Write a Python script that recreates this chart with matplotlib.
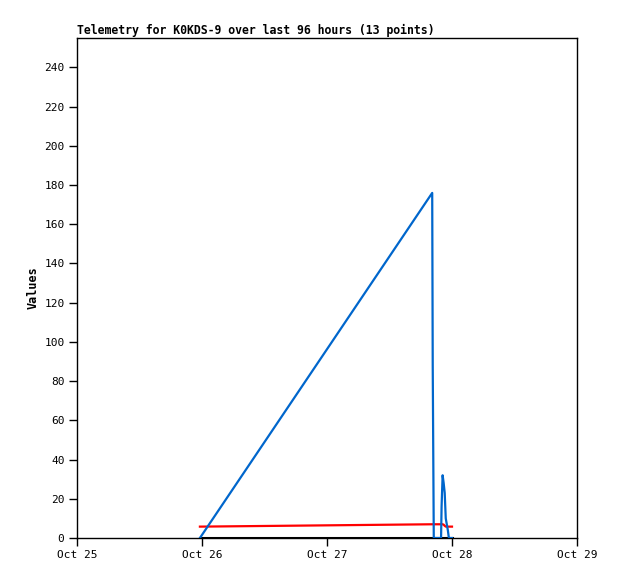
import matplotlib
matplotlib.use("Agg")
import matplotlib.pyplot as plt
import matplotlib.dates as mdates
from datetime import datetime, timedelta

# hours after Oct 25 00:00 for the 13 telemetry points
hours = [23.6, 68.2, 68.3, 68.5, 69.9, 70.0, 70.2, 70.4, 70.6, 70.8, 71.2, 71.4, 72.0]
blue_vals = [0, 176, 88, 0, 0, 16, 32, 28, 23, 10, 4, 0, 0]
red_vals = [5.8, 7.0, 7.0, 7.0, 7.0, 7.0, 7.0, 6.8, 6.2, 5.8, 5.8, 5.8, 5.8]
black_vals = [0] * 13

start = datetime(2023, 10, 25)
times = [start + timedelta(hours=h) for h in hours]
xticks = [start + timedelta(days=d) for d in range(5)]

plt.rcParams['font.family'] = 'DejaVu Sans Mono'

fig = plt.figure(figsize=(6.18, 5.79), dpi=100)
ax = fig.add_axes([77 / 618, 41 / 579, 500 / 618, 500 / 579])

ax.plot(times, black_vals, color='black', lw=2.2, zorder=2)
ax.plot(times, red_vals, color='#ff0000', lw=1.6, zorder=3)
ax.plot(times, blue_vals, color='#0066cc', lw=1.6, zorder=4)

ax.set_xlim(xticks[0], xticks[-1])
ax.set_ylim(0, 255)
ax.set_yticks(range(0, 241, 20))
ax.set_xticks(xticks)
ax.xaxis.set_major_formatter(mdates.DateFormatter('%b %d'))
ax.tick_params(direction='out', length=6, width=1, labelsize=8, pad=3)
for s in ax.spines.values():
    s.set_linewidth(1)

ax.set_ylabel('Values', fontsize=8.5, fontweight='bold', labelpad=3)
ax.set_title('Telemetry for K0KDS-9 over last 96 hours (13 points)',
             loc='left', fontsize=8.3, fontweight='bold', pad=3)

fig.savefig('out.png', dpi=100)
